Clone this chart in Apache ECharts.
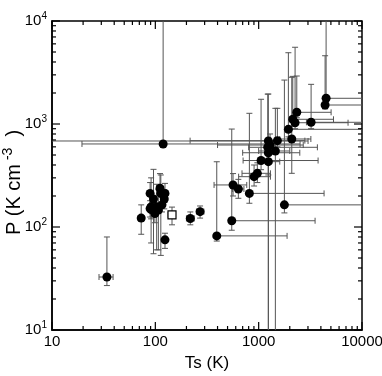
<!DOCTYPE html>
<html>
<head>
<meta charset="utf-8">
<script src="https://cdn.jsdelivr.net/npm/echarts@6/dist/echarts.min.js"></script>
<style>
  html, body { margin: 0; padding: 0; background: #fff; }
  #chart { width: 382px; height: 376px; }
</style>
</head>
<body>
<div id="chart"></div>
<script>
// filled points: Ts (K) with lower/upper bound, P (K cm^-3) with lower/upper bound
const ts   = [34, 73, 124, 218, 271, 119,
  89, 96, 91, 91, 111, 113, 124, 122, 103, 107, 99, 89, 116,
  393, 549, 565, 636, 813, 903, 971, 1055, 1241, 1289, 1224, 1241, 1451, 1517, 1241,
  1939, 2091, 2138, 2251, 2338, 3217, 4493, 4394, 1774]
const tsLo = [28.5, 68, 118, 200, 250, 19.5,
  84, 90, 86, 86, 105, 107, 118, 116, 97, 101, 94, 84, 110,
  393, 549, 370, 560, 813, 640, 690, 707, 5, 400, 800, 700, 1000, 217, 1000,
  1800, 1600, 2000, 2100, 2200, 2900, 4300, 4200, 1700]
const tsHi = [39, 78, 131, 238, 295, 2515,
  95, 102, 96, 96, 117, 119, 131, 128, 109, 113, 105, 95, 122,
  1884, 3516, 767, 720, 4295, 1300, 1300, 3758, 3006, 2700, 3700, 2500, 2000, 2800, 1600,
  20000, 3200, 5300, 7328, 5023, 20000, 20000, 20000, 20000]
const pv   = [32.7, 122, 75, 121, 141, 640,
  212, 187, 157, 148, 238, 212, 212, 187, 157, 146, 135, 151, 164,
  82, 115, 256, 234, 212, 308, 332, 442, 684, 625, 594, 526, 547, 689, 431,
  888, 715, 1111, 1029, 1299, 1039, 1777, 1529, 164]
const pLo  = [27, 85, 62, 105, 122, 600,
  165, 55, 120, 70, 200, 53, 175, 150, 60, 60, 110, 125, 140,
  73, 93, 200, 190, 170, 250, 270, 360, 5, 540, 500, 5, 5, 600, 320,
  750, 332, 950, 900, 1150, 900, 1600, 1400, 137]
const pHi  = [80, 164, 87, 140, 160, 20000,
  270, 363, 200, 300, 330, 320, 265, 230, 260, 230, 170, 180, 195,
  430, 893, 330, 290, 1270, 400, 420, 1738, 1954, 800, 1950, 700, 1420, 1420, 560,
  4920, 2840, 2900, 5560, 2924, 2427, 20000, 4600, 2670]

// open square point
const sqTs = [145], sqTsLo = [133], sqTsHi = [155]
const sqP = [131], sqPLo = [105], sqPHi = [156]

// axis ticks
const decades = [10, 100, 1000, 10000]
const xTickLabels = ['10', '100', '1000', '10000']
const yTickExp = ['1', '2', '3', '4']
const minorSteps = [2, 3, 4, 5, 6, 7, 8, 9]

const FONT = 'Liberation Sans'
const XMIN = 10, XMAX = 10000, YMIN = 10, YMAX = 10000

const errData = ts.map((t, i) => [t, pv[i], tsLo[i], tsHi[i], pLo[i], pHi[i]])
errData.push([sqTs[0], sqP[0], sqTsLo[0], sqTsHi[0], sqPLo[0], sqPHi[0]])

// tick marks: [x, y, side(0 = x axis, 1 = y axis), major]
const tickData = []
decades.forEach((d, k) => {
  tickData.push([d, YMIN, 0, 1])
  tickData.push([XMIN, d, 1, 1])
  if (k < decades.length - 1) {
    minorSteps.forEach(m => {
      tickData.push([d * m, YMIN, 0, 0])
      tickData.push([XMIN, d * m, 1, 0])
    })
  }
})

function renderErr (params, api) {
  const x = api.value(0), y = api.value(1)
  const lo = api.value(2), hi = api.value(3), plo = api.value(4), phi = api.value(5)
  const cx = api.coord([x, y])
  const l = api.coord([Math.max(lo, XMIN), y])
  const r = api.coord([Math.min(hi, XMAX), y])
  const b = api.coord([x, Math.max(plo, YMIN)])
  const t = api.coord([x, Math.min(phi, YMAX)])
  const cap = 3
  const style = { stroke: '#555', lineWidth: 1, fill: null }
  const kids = [
    { type: 'line', shape: { x1: l[0], y1: cx[1], x2: r[0], y2: cx[1] }, style },
    { type: 'line', shape: { x1: cx[0], y1: b[1], x2: cx[0], y2: t[1] }, style }
  ]
  if (lo >= XMIN) kids.push({ type: 'line', shape: { x1: l[0], y1: cx[1] - cap, x2: l[0], y2: cx[1] + cap }, style })
  if (hi <= XMAX) kids.push({ type: 'line', shape: { x1: r[0], y1: cx[1] - cap, x2: r[0], y2: cx[1] + cap }, style })
  if (plo >= YMIN) kids.push({ type: 'line', shape: { x1: cx[0] - cap, y1: b[1], x2: cx[0] + cap, y2: b[1] }, style })
  if (phi <= YMAX) kids.push({ type: 'line', shape: { x1: cx[0] - cap, y1: t[1], x2: cx[0] + cap, y2: t[1] }, style })
  return { type: 'group', children: kids }
}

function renderTick (params, api) {
  const cs = params.coordSys
  const side = api.value(2)
  const len = api.value(3) ? 8 : 4
  const p = api.coord([api.value(0), api.value(1)])
  const style = { stroke: '#000', lineWidth: 1.2 }
  if (side === 0) {
    return { type: 'group', children: [
      { type: 'line', shape: { x1: p[0], y1: cs.y + cs.height, x2: p[0], y2: cs.y + cs.height - len }, style },
      { type: 'line', shape: { x1: p[0], y1: cs.y, x2: p[0], y2: cs.y + len }, style }
    ] }
  }
  return { type: 'group', children: [
    { type: 'line', shape: { x1: cs.x, y1: p[1], x2: cs.x + len, y2: p[1] }, style },
    { type: 'line', shape: { x1: cs.x + cs.width, y1: p[1], x2: cs.x + cs.width - len, y2: p[1] }, style }
  ] }
}

const chart = echarts.init(document.getElementById('chart'))
chart.setOption({
  animation: false,
  grid: {
    left: 52, right: 20, top: 21, bottom: 46,
    containLabel: false, outerBoundsMode: 'none',
    show: true, borderColor: '#000', borderWidth: 1.5, backgroundColor: 'transparent'
  },
  xAxis: {
    type: 'log', logBase: 10, min: XMIN, max: XMAX,
    splitLine: { show: false },
    axisTick: { show: false },
    axisLine: { lineStyle: { color: '#000', width: 1.5 } },
    axisLabel: {
      color: '#000', fontSize: 15, fontFamily: FONT, margin: 4,
      formatter: v => xTickLabels[Math.round(Math.log10(v)) - 1]
    },
    name: 'Ts (K)', nameLocation: 'middle', nameGap: 25, nameMoveOverlap: false,
    nameTextStyle: { color: '#000', fontSize: 17, fontFamily: FONT }
  },
  yAxis: {
    type: 'log', logBase: 10, min: YMIN, max: YMAX,
    splitLine: { show: false },
    axisTick: { show: false },
    axisLine: { lineStyle: { color: '#000', width: 1.5 } },
    axisLabel: {
      color: '#000', margin: 5,
      formatter: v => '{b|10}{s|' + yTickExp[Math.round(Math.log10(v)) - 1] + '}',
      rich: {
        b: { fontSize: 15, fontFamily: FONT, color: '#000', lineHeight: 20 },
        s: { fontSize: 10, fontFamily: FONT, color: '#000', verticalAlign: 'top', lineHeight: 20 }
      }
    },
    name: '{a|P (K cm}{s| -3}{a|  )}', nameLocation: 'middle', nameGap: 25, nameRotate: 90,
    nameMoveOverlap: false,
    nameTextStyle: {
      padding: [0, 14, 0, 0],
      rich: {
        a: { fontSize: 20, fontFamily: FONT, color: '#000', lineHeight: 26 },
        s: { fontSize: 14, fontFamily: FONT, color: '#000', verticalAlign: 'top', lineHeight: 26 }
      }
    }
  },
  series: [
    {
      type: 'custom', renderItem: renderErr, data: errData, clip: true, z: 1,
      encode: { x: 0, y: 1 }, silent: true
    },
    {
      type: 'custom', renderItem: renderTick, data: tickData, z: 3,
      encode: { x: 0, y: 1 }, silent: true
    },
    {
      type: 'scatter', data: ts.map((t, i) => [t, pv[i]]), symbol: 'circle', symbolSize: 9,
      itemStyle: { color: '#000', opacity: 1 }, z: 2
    },
    {
      type: 'scatter', data: sqTs.map((t, i) => [t, sqP[i]]), symbol: 'rect', symbolSize: 8,
      itemStyle: { color: '#fff', borderColor: '#000', borderWidth: 1.2, opacity: 1 }, z: 2
    }
  ]
})
</script>
</body>
</html>
